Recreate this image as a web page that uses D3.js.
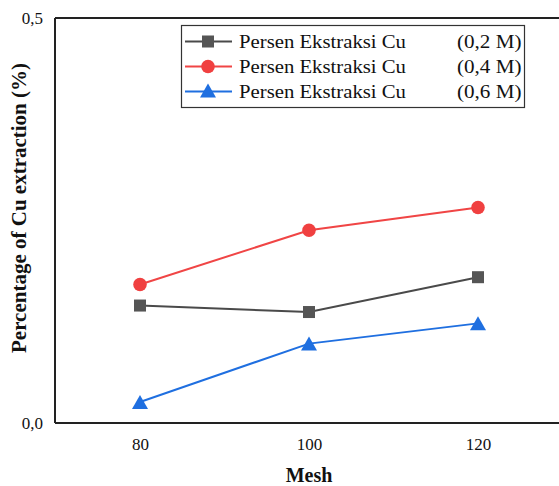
<!DOCTYPE html>
<html><head><meta charset="utf-8">
<script src="https://cdn.jsdelivr.net/npm/d3@7"></script>
<style>body{margin:0;background:#fff}svg{display:block}
svg text{font-family:"Liberation Serif","Times New Roman",Tinos,"DejaVu Serif",serif;}</style>
</head><body>
<script>
const categories = ["80","100","120"];
const series02 = [0.145, 0.137, 0.180];
const series04 = [0.171, 0.238, 0.266];
const series06 = [0.026, 0.098, 0.123];
const seriesNames = ["Persen Ekstraksi Cu","Persen Ekstraksi Cu","Persen Ekstraksi Cu"];
const seriesConc = ["(0,2 M)","(0,4 M)","(0,6 M)"];
const yTicks = [0, 0.5];
const yTickLabels = ["0,0","0,5"];

const W=559,H=486;
const m={l:55,r:0,t:18,b:63};
const svg=d3.select("body").append("svg").attr("width",W).attr("height",H);

const x=d3.scalePoint().domain(categories).range([140,478]);
const y=d3.scaleLinear().domain([0,0.5]).range([H-m.b,m.t]);

const gx=svg.append("g").attr("transform",`translate(0,${H-m.b})`)
  .call(d3.axisBottom(x).tickSize(0).tickPadding(15));
gx.attr("font-family",null);
gx.select(".domain").attr("d",`M${m.l},0H${W}`).attr("stroke","#222").attr("stroke-width",2);
gx.selectAll("text").attr("font-size",17).attr("fill","#111");

const gy=svg.append("g").attr("transform",`translate(${m.l},0)`)
  .call(d3.axisLeft(y).tickValues(yTicks).tickFormat((d,i)=>yTickLabels[i]).tickSize(0).tickPadding(12));
gy.attr("font-family",null);
gy.select(".domain").attr("d",`M0,${H-m.b}V${m.t}`).attr("stroke","#222").attr("stroke-width",2);
gy.selectAll("text").attr("font-size",17).attr("fill","#111");
svg.append("line").attr("x1",m.l).attr("x2",W).attr("y1",m.t).attr("y2",m.t).attr("stroke","#222").attr("stroke-width",2);

svg.append("text").attr("x",309).attr("y",481.5).attr("text-anchor","middle")
  .attr("font-weight","bold").attr("font-size",20).attr("fill","#111").text("Mesh");
svg.append("text").attr("transform","translate(26,208) rotate(-90)").attr("text-anchor","middle")
  .attr("font-weight","bold").attr("font-size",21).attr("fill","#111").text("Percentage of Cu extraction (%)");

const cfg=[
  {data:series02,color:"#4a4a4a",mcolor:"#555555",shape:"square"},
  {data:series04,color:"#f04545",mcolor:"#f04040",shape:"circle"},
  {data:series06,color:"#1f6fe0",mcolor:"#1f6fe0",shape:"triangle"}
];
function marker(g,shape,cx,cy,color){
  if(shape==="square") g.append("rect").attr("x",cx-6).attr("y",cy-6).attr("width",12).attr("height",12).attr("fill",color);
  else if(shape==="circle") g.append("circle").attr("cx",cx).attr("cy",cy).attr("r",6.8).attr("fill",color);
  else g.append("path").attr("d",`M${cx},${cy-8}L${cx+8},${cy+6}L${cx-8},${cy+6}Z`).attr("fill",color);
}
const line=d3.line().x((d,i)=>x(categories[i])).y(d=>y(d));
cfg.forEach(c=>{
  svg.append("path").attr("d",line(c.data)).attr("fill","none").attr("stroke",c.color).attr("stroke-width",2);
  const g=svg.append("g");
  c.data.forEach((v,i)=>marker(g,c.shape,x(categories[i]),y(v)+(c.shape==="triangle"?1:0),c.mcolor));
});

const lg=svg.append("g");
lg.append("rect").attr("x",181.5).attr("y",25.5).attr("width",343).attr("height",82).attr("fill","#fff").attr("stroke","#333").attr("stroke-width",1.2);
cfg.forEach((c,i)=>{
  const ly=41.5+i*25;
  lg.append("line").attr("x1",185).attr("x2",232).attr("y1",ly).attr("y2",ly).attr("stroke",c.color).attr("stroke-width",2);
  marker(lg,c.shape,208,ly,c.mcolor);
  lg.append("text").attr("x",239).attr("y",ly+6.8).attr("font-size",19.5).attr("fill","#111")
    .attr("textLength",167).attr("lengthAdjust","spacingAndGlyphs").text(seriesNames[i]);
  lg.append("text").attr("x",457).attr("y",ly+6.8).attr("font-size",19.5).attr("fill","#111")
    .attr("textLength",64.5).attr("lengthAdjust","spacingAndGlyphs").text(seriesConc[i]);
});
</script>
</body></html>
